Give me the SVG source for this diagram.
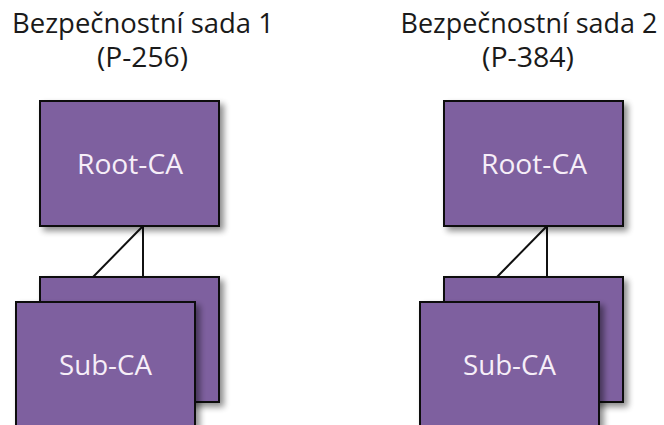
<svg xmlns="http://www.w3.org/2000/svg" width="664" height="425" viewBox="0 0 664 425">
  <style>
    .title { font-family: "Open Sans", "Liberation Sans", sans-serif; font-size: 27px; fill: #1a1a1a; text-anchor: middle; }
    .label { font-family: "Open Sans", "Liberation Sans", sans-serif; font-size: 27px; fill: #f6eef8; text-anchor: middle; }
    .box { fill: #7e609f; stroke: #111111; stroke-width: 2; }
    .link { stroke: #111111; stroke-width: 2; fill: none; }
  </style>
  <defs>
    <filter id="shadow" x="-10%" y="-10%" width="130%" height="130%">
      <feGaussianBlur in="SourceAlpha" stdDeviation="3"/>
      <feOffset dx="4" dy="4" result="b"/>
      <feComponentTransfer><feFuncA type="linear" slope="0.45"/></feComponentTransfer>
      <feMerge><feMergeNode/><feMergeNode in="SourceGraphic"/></feMerge>
    </filter>
  </defs>
  <rect width="664" height="425" fill="#ffffff"/>

  <!-- suite headings -->
  <g id="title-1">
    <text class="title" x="143" y="33" textLength="262" lengthAdjust="spacingAndGlyphs">Bezpečnostní sada 1</text>
    <text class="title" x="142.5" y="67" textLength="91" lengthAdjust="spacingAndGlyphs">(P-256)</text>
  </g>
  <g id="title-2">
    <text class="title" x="529" y="33" textLength="257" lengthAdjust="spacingAndGlyphs">Bezpečnostní sada 2</text>
    <text class="title" x="528" y="67" textLength="92" lengthAdjust="spacingAndGlyphs">(P-384)</text>
  </g>

  <!-- hierarchy links -->
  <g id="connectors">
    <path class="link" d="M143 226 V277 M143 226 L93 277"/>
    <path class="link" d="M547 226 V277 M547 226 L497 277"/>
  </g>

  <!-- suite 1 -->
  <g id="root-ca-1">
    <rect class="box" x="40" y="101" width="179" height="125" filter="url(#shadow)"/>
    <text class="label" x="130" y="174" textLength="106" lengthAdjust="spacingAndGlyphs">Root-CA</text>
  </g>
  <g id="sub-ca-1-back">
    <rect class="box" x="40" y="277" width="179" height="125" filter="url(#shadow)"/>
  </g>
  <g id="sub-ca-1">
    <rect class="box" x="16" y="302" width="179" height="125" filter="url(#shadow)"/>
    <text class="label" x="105.5" y="375" textLength="93" lengthAdjust="spacingAndGlyphs">Sub-CA</text>
  </g>

  <!-- suite 2 -->
  <g id="root-ca-2">
    <rect class="box" x="444" y="101" width="179" height="125" filter="url(#shadow)"/>
    <text class="label" x="534" y="174" textLength="106" lengthAdjust="spacingAndGlyphs">Root-CA</text>
  </g>
  <g id="sub-ca-2-back">
    <rect class="box" x="444" y="277" width="179" height="125" filter="url(#shadow)"/>
  </g>
  <g id="sub-ca-2">
    <rect class="box" x="420" y="302" width="179" height="125" filter="url(#shadow)"/>
    <text class="label" x="509.5" y="375" textLength="93" lengthAdjust="spacingAndGlyphs">Sub-CA</text>
  </g>
</svg>
